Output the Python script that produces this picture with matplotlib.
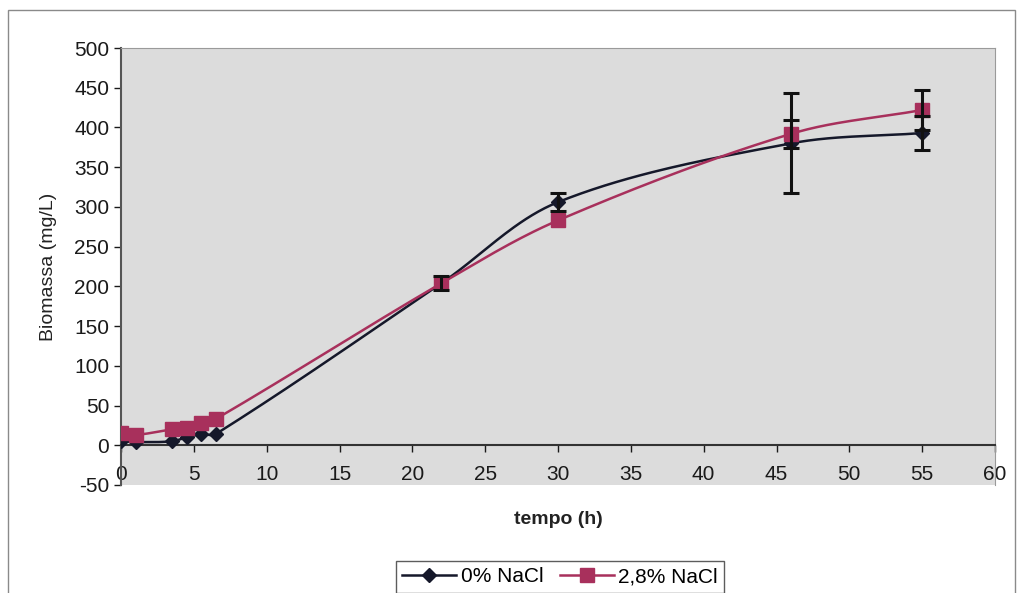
import numpy as np
import matplotlib.pyplot as plt
from matplotlib.patches import Rectangle

plt.rcParams['font.family'] = ['Liberation Sans', 'DejaVu Sans']
plt.rcParams['axes.unicode_minus'] = False

# data
tempo = [0, 1, 3.5, 4.5, 5.5, 6.5, 22, 30, 46, 55]
bio_0 = [5, 4, 5, 10, 14, 14, 204, 306, 380, 393]
err_0 = [0, 0, 0, 0, 0, 0, 9, 11, 63, 22]
bio_28 = [15, 13, 20, 22, 28, 33, 204, 283, 392, 422]
err_28 = [0, 0, 0, 0, 0, 0, 0, 0, 18, 25]

c_black = '#15182a'
c_red = '#a8305c'


def smooth(x, y, n=40, ys=0.0545):
    # Bezier smoothing like Excel: tangent from neighbours, handle = segment/3
    p = np.column_stack([np.asarray(x, float), np.asarray(y, float) * ys])
    k = len(p)
    tang = np.zeros_like(p)
    for i in range(k):
        a = p[max(i - 1, 0)]
        b = p[min(i + 1, k - 1)]
        v = b - a
        tang[i] = v / np.linalg.norm(v)
    t = np.linspace(0, 1, n)[:, None]
    out = []
    for i in range(k - 1):
        L = np.linalg.norm(p[i + 1] - p[i]) / 3
        b0, b3 = p[i], p[i + 1]
        b1 = b0 + tang[i] * L
        b2 = b3 - tang[i + 1] * L
        out.append((1 - t) ** 3 * b0 + 3 * (1 - t) ** 2 * t * b1
                   + 3 * (1 - t) * t ** 2 * b2 + t ** 3 * b3)
    out = np.vstack(out)
    return out[:, 0], out[:, 1] / ys


fig = plt.figure(figsize=(10.23, 5.93), dpi=100)
fig.patches.append(Rectangle((8 / 1023, -0.01), 1007 / 1023, 1 - 10 / 593 + 0.01,
                             transform=fig.transFigure, fill=False,
                             edgecolor='#8a8a8a', linewidth=1.0))

ax = fig.add_axes([121 / 1023, 108 / 593, 874 / 1023, 437 / 593])
ax.set_facecolor('#dcdcdc')
ax.set_xlim(0, 60)
ax.set_ylim(-50, 500)

for x, y, col, mk, ms in [(tempo, bio_0, c_black, 'D', 7),
                          (tempo, bio_28, c_red, 's', 10)]:
    sx, sy = smooth(x, y)
    ax.plot(sx, sy, color=col, linewidth=1.8, zorder=3)
    ax.plot(x, y, linestyle='none', marker=mk, markersize=ms, color=col, zorder=4)

for y, e in [(bio_0, err_0), (bio_28, err_28)]:
    idx = [i for i in range(len(e)) if e[i] > 0]
    ax.errorbar([tempo[i] for i in idx], [y[i] for i in idx],
                yerr=[e[i] for i in idx], fmt='none', ecolor='#111111',
                elinewidth=2.2, capsize=6, capthick=2.2, zorder=5)

ax.spines['bottom'].set_position(('data', 0))
for s in ['top', 'right']:
    ax.spines[s].set_color('#9a9a9a')
ax.spines['left'].set_color('#555555')
ax.spines['bottom'].set_color('#333333')
ax.spines['left'].set_linewidth(1.5)
ax.spines['bottom'].set_linewidth(1.5)

ax.set_xticks(np.arange(0, 61, 5))
ax.set_yticks(np.arange(-50, 501, 50))
ax.tick_params(axis='both', labelsize=15, colors='#1a1a1a', length=5, width=1)
ax.tick_params(axis='x', pad=9)

fig.text(558 / 1023, 1 - 520 / 593, 'tempo (h)', ha='center', va='center',
         fontsize=14, fontweight='bold', color='#222222')
ax.set_ylabel('Biomassa (mg/L)', fontsize=14, color='#222222', labelpad=12)

h0, = ax.plot([], [], color=c_black, marker='D', markersize=7, linewidth=1.8)
h1, = ax.plot([], [], color=c_red, marker='s', markersize=10, linewidth=1.8)
leg = fig.legend([h0, h1], ['0% NaCl', '2,8% NaCl'], loc='center',
                 bbox_to_anchor=(560 / 1023, 1 - 577 / 593), ncol=2,
                 fontsize=15, frameon=True, fancybox=False, handlelength=2.6,
                 handletextpad=0.2, columnspacing=0.8, borderpad=0.3)
leg.get_frame().set_edgecolor('#333333')
leg.get_frame().set_linewidth(1.0)

fig.savefig('out.png', dpi=100)
